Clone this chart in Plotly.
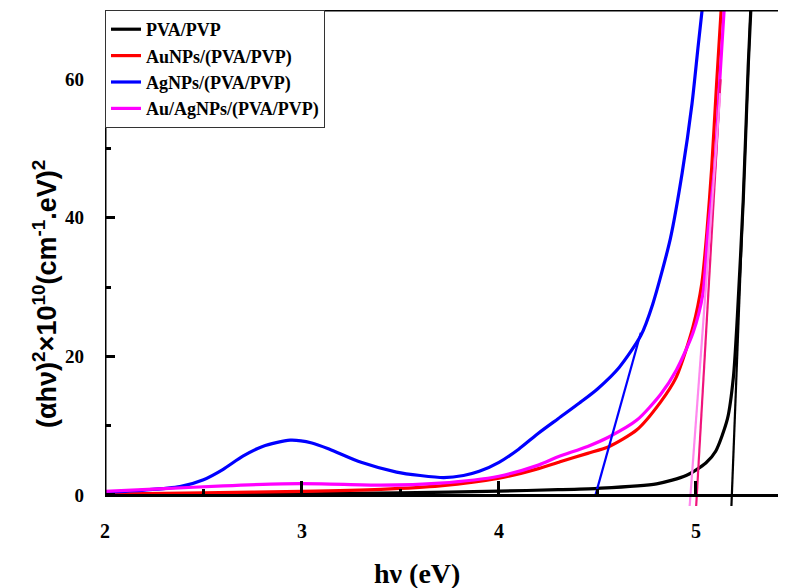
import plotly.graph_objects as go

# ---------------- data ----------------
pva_x = [2.0, 2.5, 3.0, 3.5, 4.0, 4.3, 4.5, 4.8, 4.95, 5.05, 5.1, 5.16, 5.19, 5.21, 5.24, 5.265, 5.28]
pva_y = [0.0, 0.05, 0.15, 0.3, 0.55, 0.75, 0.95, 1.6, 2.8, 4.6, 6.3, 11.0, 17.0, 25.7, 42.6, 61.8, 71.0]

au_x = [2.0, 2.5, 3.0, 3.4, 3.7, 4.0, 4.2, 4.31, 4.45, 4.56, 4.70, 4.82, 4.90, 4.985, 5.03, 5.055, 5.08, 5.105, 5.13]
au_y = [0.1, 0.3, 0.5, 0.8, 1.3, 2.4, 3.8, 4.8, 6.0, 7.0, 9.4, 13.4, 17.0, 24.3, 30.6, 37.8, 47.3, 59.5, 71.0]

ag_x = [2.0, 2.2, 2.38, 2.5, 2.6, 2.7, 2.8, 2.94, 3.05, 3.14, 3.3, 3.48, 3.6, 3.72, 3.82, 3.9, 4.0,
        4.1, 4.2, 4.3, 4.41, 4.5, 4.61, 4.72, 4.78, 4.87, 4.93, 4.98, 5.01, 5.035]
ag_y = [0.4, 0.7, 1.2, 2.2, 3.7, 5.6, 7.0, 7.9, 7.5, 6.6, 4.7, 3.3, 2.8, 2.5, 2.8, 3.4, 4.7,
        6.6, 8.9, 11.0, 13.3, 15.3, 18.4, 23.0, 27.5, 37.0, 46.5, 56.5, 64.5, 71.0]

auag_x = [2.0, 2.3, 2.6, 2.9, 3.1, 3.4, 3.7, 4.0, 4.2, 4.3, 4.45, 4.56, 4.70, 4.82, 4.90, 4.985, 5.035,
          5.06, 5.095, 5.12, 5.145]
auag_y = [0.5, 0.9, 1.3, 1.6, 1.6, 1.4, 1.7, 2.7, 4.3, 5.5, 7.0, 8.4, 10.8, 14.5, 18.0, 23.4, 29.0,
          37.8, 47.3, 59.5, 71.0]

# tangent (Tauc extrapolation) lines: two end points each
pva_tan_x = [5.180, 5.277]
pva_tan_y = [-1.6, 70.0]
au_tan_x = [5.001, 5.125]
au_tan_y = [-1.6, 60.0]
ag_tan_x = [4.49, 4.72]
ag_tan_y = [0.0, 23.4]
auag_tan_x = [4.968, 5.123]
auag_tan_y = [-1.6, 58.0]

names = ["PVA/PVP", "AuNPs/(PVA/PVP)", "AgNPs/(PVA/PVP)", "Au/AgNPs/(PVA/PVP)"]
colors = ["#000000", "#FF0000", "#0000FF", "#FF00FF"]

x_ticks = [2, 3, 4, 5]
y_ticks = [0, 20, 40, 60]
x_range = [2.0, 5.457]
y_range = [-1.6, 70.0]

# ---------------- figure ----------------
fig = go.Figure()

series = [(pva_x, pva_y), (au_x, au_y), (ag_x, ag_y), (auag_x, auag_y)]
for (xs, ys), nm, c in zip(series, names, colors):
    fig.add_trace(go.Scatter(x=xs, y=ys, mode="lines", name=nm,
                             line=dict(color=c, width=3.2, shape="spline", smoothing=0.7)))

tangents = [(pva_tan_x, pva_tan_y, "#000000"),
            (au_tan_x, au_tan_y, "#F0147C"),
            (ag_tan_x, ag_tan_y, "#0000FF"),
            (auag_tan_x, auag_tan_y, "#FF88EE")]
for xs, ys, c in tangents:
    fig.add_trace(go.Scatter(x=xs, y=ys, mode="lines", showlegend=False, hoverinfo="skip",
                             line=dict(color=c, width=2.2)))

pos0 = (0 - y_range[0]) / (y_range[1] - y_range[0])

# the page body adds an 8 px margin, so the figure is 8 px smaller than the window
fig.update_layout(
    width=778, height=580,
    margin=dict(l=97, r=0, t=2, b=82, autoexpand=False),
    paper_bgcolor="white", plot_bgcolor="white",
    showlegend=True,
    legend=dict(x=0, y=1, xanchor="left", yanchor="top",
                bgcolor="white", bordercolor="#333333", borderwidth=1,
                font=dict(family="Liberation Serif", size=18, color="black", weight="bold"),
                tracegroupgap=0),
    xaxis=dict(range=x_range, anchor="free", position=pos0, automargin=False,
               showline=True, linecolor="black", linewidth=3,
               showgrid=False, zeroline=False,
               tickmode="array", tickvals=x_ticks,
               ticks="inside", ticklen=13, tickwidth=3, tickcolor="black",
               minor=dict(dtick=0.5, ticks="inside", ticklen=5, tickwidth=2.5, tickcolor="black"),
               tickfont=dict(family="Liberation Serif", size=20, color="black", weight="bold"),
               ticklabelstandoff=17),
    yaxis=dict(range=y_range, automargin=False, showline=False, showgrid=False, zeroline=False,
               tickmode="array", tickvals=y_ticks,
               ticks="inside", ticklen=10, tickwidth=2.5, tickcolor="black",
               minor=dict(tickvals=[10, 30, 50], ticks="inside", ticklen=6, tickwidth=2.5, tickcolor="black"),
               tickfont=dict(family="Liberation Serif", size=19, color="black", weight="bold"),
               ticklabelstandoff=20),
)

# frame lines: left axis (0..70) and top border
fig.add_shape(type="line", xref="x", yref="y", x0=x_range[0], x1=x_range[0], y0=0, y1=y_range[1],
              line=dict(color="black", width=3))
fig.add_shape(type="line", xref="x", yref="y", x0=x_range[0], x1=x_range[1], y0=y_range[1], y1=y_range[1],
              line=dict(color="black", width=3))

# axis titles
fig.add_annotation(text="hν (eV)", xref="paper", yref="paper",
                   x=(417 - 105) / 681, y=-(573 - 506) / 496, xanchor="center", yanchor="middle",
                   showarrow=False,
                   font=dict(family="Liberation Serif", size=28, color="black", weight="bold"))
fig.add_annotation(text="(αhν)<sup>2</sup>×10<sup>10</sup>(cm<sup>-1</sup>.eV)<sup>2</sup>",
                   xref="paper", yref="paper", textangle=-90,
                   x=-(105 - 45) / 681, y=(506 - 294) / 496, xanchor="center", yanchor="middle",
                   showarrow=False,
                   font=dict(family="Liberation Sans", size=27, color="black", weight="bold"))

fig.write_html("out.html")
